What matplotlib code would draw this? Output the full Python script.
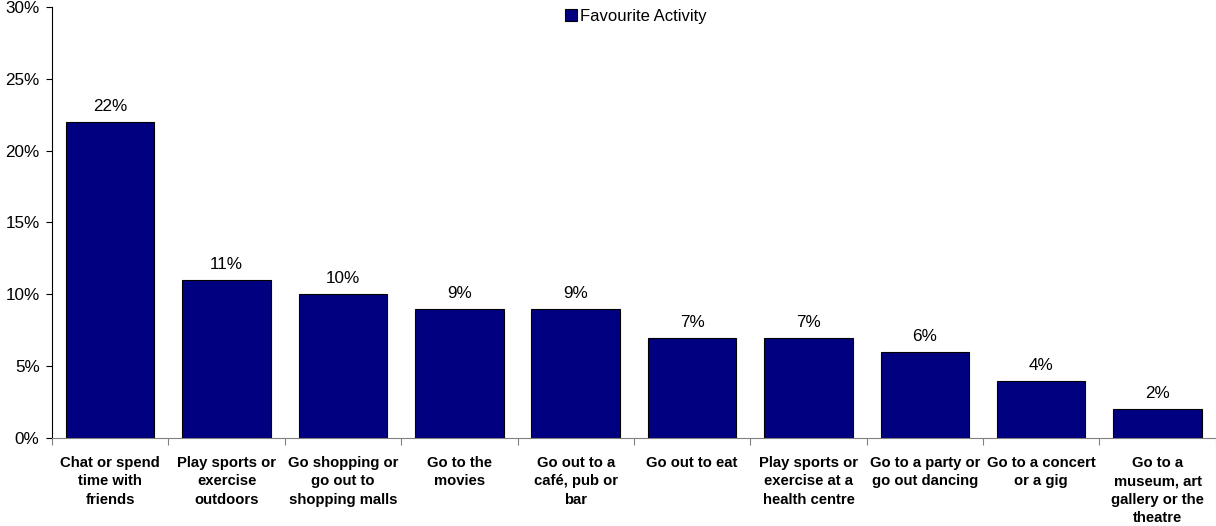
import numpy as np
import matplotlib
matplotlib.use('Agg')
import matplotlib.pyplot as plt
from matplotlib.ticker import PercentFormatter, FixedLocator

plt.rcParams['font.family'] = ['Liberation Sans', 'DejaVu Sans']

categories = ['Chat or spend\ntime with\nfriends', 'Play sports or\nexercise\noutdoors',
              'Go shopping or\ngo out to\nshopping malls', 'Go to the\nmovies',
              'Go out to a\ncafé, pub or\nbar', 'Go out to eat',
              'Play sports or\nexercise at a\nhealth centre', 'Go to a party or\ngo out dancing',
              'Go to a concert\nor a gig', 'Go to a\nmuseum, art\ngallery or the\ntheatre']
values = [22, 11, 10, 9, 9, 7, 7, 6, 4, 2]
series_name = 'Favourite Activity'

fig = plt.figure(figsize=(12.16, 5.26), dpi=100)
ax = fig.add_axes([0.0428, 0.167, 0.957, 0.82])

x = np.arange(len(values))
bars = ax.bar(x, values, width=0.76, color='#000080', edgecolor='black', linewidth=0.8,
              label=series_name)
for xi, v in zip(x, values):
    ax.text(xi, v + 0.55, f'{v}%', ha='center', va='bottom', fontsize=12.3)

ax.set_xlim(-0.5, len(values) - 0.5)
ax.set_ylim(0, 30)
ax.set_yticks(np.arange(0, 31, 5))
ax.yaxis.set_major_formatter(PercentFormatter(decimals=0))
ax.tick_params(axis='y', labelsize=12.3, length=4, width=0.8, direction='out', pad=5)

ax.set_xticks(x)
ax.set_xticklabels(categories, fontweight='bold', fontsize=10.7, linespacing=1.38)
ax.tick_params(axis='x', length=0, pad=13)
ax.xaxis.set_minor_locator(FixedLocator(np.arange(-0.5, len(values), 1.0)))
ax.tick_params(axis='x', which='minor', length=5, width=0.8, color='#808080')

for s in ['top', 'right']:
    ax.spines[s].set_visible(False)
ax.spines['bottom'].set_color('#808080')
ax.spines['left'].set_color('black')

ax.legend(loc='upper center', bbox_to_anchor=(0.502, 1.03), frameon=False, fontsize=12,
          handlelength=0.7, handleheight=0.7, handletextpad=0.2)

fig.savefig('out.png', dpi=100)
